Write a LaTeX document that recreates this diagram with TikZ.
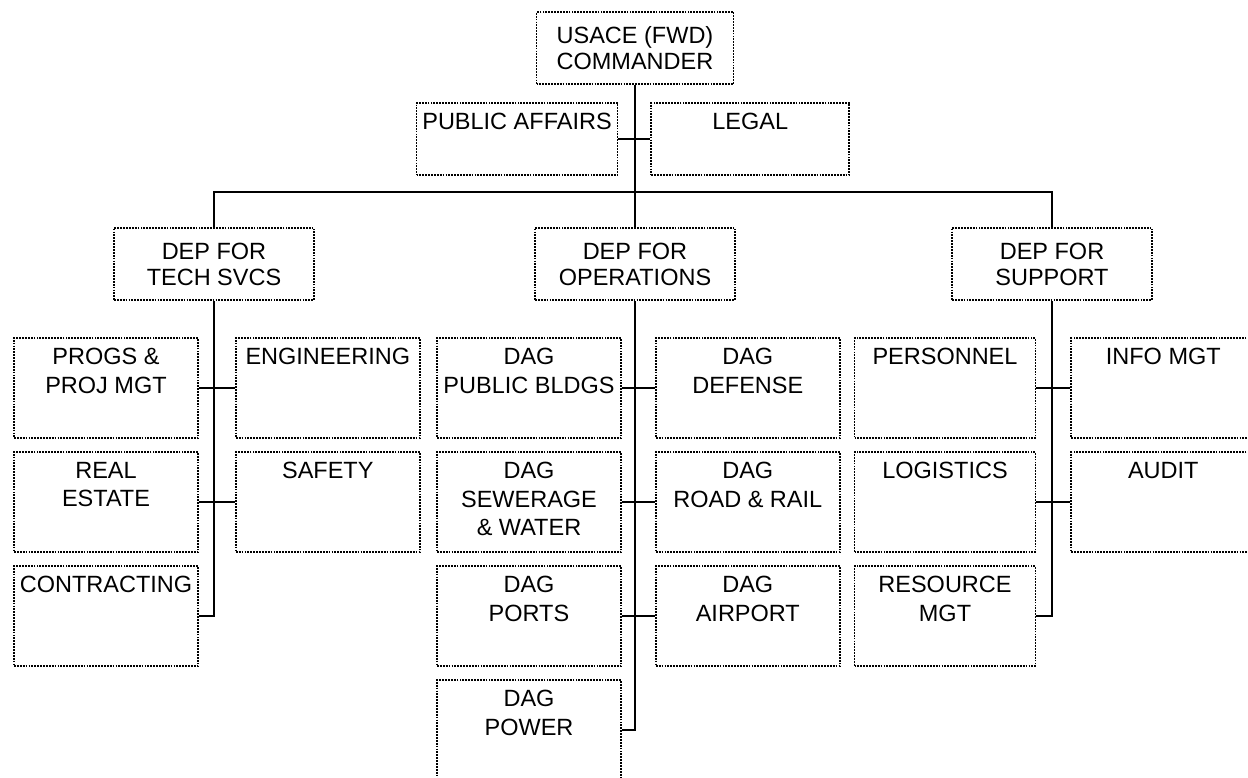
\documentclass[tikz,border=0pt]{standalone}
\usepackage{fontspec}
\setmainfont{Liberation Sans}
\usetikzlibrary{positioning}

\begin{document}
\begin{tikzpicture}[x=1pt, y=-1pt, node distance=12.2pt and 34pt,
  font=\fontsize{23.5}{26}\selectfont,
  boxline/.style={draw, line width=1.8pt, dash pattern=on 1.8pt off 1.1pt},
  head/.style={boxline, align=center, minimum width=200pt, minimum height=72pt, inner sep=0pt},
  unit/.style={boxline, minimum width=184pt, minimum height=100pt, inner sep=0pt,
    label={[anchor=north, yshift=-11pt, inner sep=0pt, align=center,
      font=\fontsize{23.5}{28.5}\selectfont]north:{#1}}},
  link/.style={draw, line width=2.6pt}]
\useasboundingbox (0,0) rectangle (1248,778);
\clip (0,0) rectangle (1248,778);

% top level
\node[head, minimum width=197pt] (cmdr) at (635,48) {USACE (FWD)\\COMMANDER};
\node[unit=PUBLIC AFFAIRS, minimum width=201pt, minimum height=72pt] (pa) at (517,139) {};
\node[unit=LEGAL, minimum width=198pt, minimum height=72pt, right=32pt of pa] (legal) {};

% deputies
\node[head] (tech) at (214,264) {DEP FOR\\TECH SVCS};
\node[head] (ops) at (635,264) {DEP FOR\\OPERATIONS};
\node[head] (supp) at (1052,264) {DEP FOR\\SUPPORT};

% tech svcs
\node[unit={PROGS \&\\PROJ MGT}] (progs) at (106,388) {};
\node[unit=ENGINEERING, right=36pt of progs] (eng) {};
\node[unit={REAL\\ESTATE}, below=of progs] (realest) {};
\node[unit=SAFETY, below=of eng] (safety) {};
\node[unit=CONTRACTING, below=of realest] (contr) {};

% operations
\node[unit={DAG\\PUBLIC BLDGS}] (bldgs) at (529,388) {};
\node[unit={DAG\\DEFENSE}, right=33pt of bldgs] (defense) {};
\node[unit={DAG\\SEWERAGE\\\& WATER}, below=of bldgs] (sewer) {};
\node[unit={DAG\\ROAD \& RAIL}, below=of defense] (rail) {};
\node[unit={DAG\\PORTS}, below=of sewer] (ports) {};
\node[unit={DAG\\AIRPORT}, below=of rail] (airport) {};
\node[unit={DAG\\POWER}, below=of ports] (power) {};

% support
\node[unit=PERSONNEL, minimum width=181pt] (pers) at (945,388) {};
\node[unit=INFO MGT, right=34pt of pers] (info) {};
\node[unit=LOGISTICS, minimum width=181pt, below=of pers] (logi) {};
\node[unit=AUDIT, below=of info] (audit) {};
\node[unit={RESOURCE\\MGT}, minimum width=181pt, below=of logi] (resmgt) {};

% connectors
\coordinate (bus) at (635,192);
\draw[link] (cmdr.south) -- (ops.north);
\draw[link] (pa.east) -- (legal.west);
\draw[link] (tech.north) |- (bus) -| (supp.north);
\draw[link] (tech.south) |- (contr.east);
\draw[link] (progs.east) -- (eng.west);
\draw[link] (realest.east) -- (safety.west);
\draw[link] (ops.south) |- (power.east);
\draw[link] (bldgs.east) -- (defense.west);
\draw[link] (sewer.east) -- (rail.west);
\draw[link] (ports.east) -- (airport.west);
\draw[link] (supp.south) |- (resmgt.east);
\draw[link] (pers.east) -- (info.west);
\draw[link] (logi.east) -- (audit.west);
\end{tikzpicture}
\end{document}
